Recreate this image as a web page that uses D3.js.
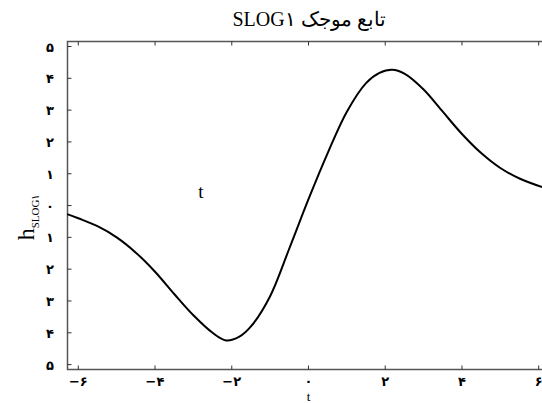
<!DOCTYPE html>
<html><head><meta charset="utf-8">
<script src="https://cdn.jsdelivr.net/npm/d3@7"></script>
<style>body{margin:0;background:#fff}svg{display:block}</style>
</head><body>
<svg id="c" width="542" height="403"></svg>
<script>
const tValues = [-6.29,-6.0,-5.5,-5.0,-4.5,-4.0,-3.5,-3.0,-2.5,-2.15,-1.8,-1.5,-1.0,-0.5,0.0,0.5,1.0,1.5,1.85,2.18,2.5,3.0,3.5,4.0,4.5,5.0,5.5,6.09];
const hValues = [-0.27,-0.4,-0.65,-1.0,-1.48,-2.08,-2.78,-3.45,-4.0,-4.24,-4.12,-3.8,-2.85,-1.35,0.2,1.65,2.95,3.85,4.17,4.27,4.15,3.65,2.95,2.25,1.65,1.18,0.85,0.58];
const xTicks = [-6,-4,-2,0,2,4,6];
const xTickLabels = ["−۶","−۴","−۲","۰","۲","۴","۶"];
const yTicks = [5,4,3,2,1,0,-1,-2,-3,-4,-5];
const yTickLabels = ["۵","۴","۳","۲","۱","۰","۱","۲","۳","۴","۵"];
const titleText = "تابع موجک SLOG۱";

const svg = d3.select("#c");
const L = 67.5, T = 41.5, B = 369.5;
const x = d3.scaleLinear().domain([-6, 6]).range([78.3, 538.7]);
const y = d3.scaleLinear().domain([-5, 5]).range([364.6, 46.5]);
const R = x(6.12);

const serif = "'Liberation Serif','DejaVu Serif',serif";
svg.append("rect").attr("x", L).attr("y", T).attr("width", R - L).attr("height", B - T)
  .attr("fill", "none").attr("stroke", "#555").attr("stroke-width", 1.5);

svg.append("g").selectAll("line").data(xTicks).join("line")
  .attr("x1", d => x(d)).attr("x2", d => x(d)).attr("y1", B).attr("y2", B - 4)
  .attr("stroke", "#333").attr("stroke-width", 1);
svg.append("g").selectAll("line").data(xTicks).join("line")
  .attr("x1", d => x(d)).attr("x2", d => x(d)).attr("y1", T).attr("y2", T + 4)
  .attr("stroke", "#333").attr("stroke-width", 1);
svg.append("g").selectAll("line").data(yTicks).join("line")
  .attr("x1", L).attr("x2", L + 4).attr("y1", d => y(d)).attr("y2", d => y(d))
  .attr("stroke", "#333").attr("stroke-width", 1);

svg.append("g").selectAll("text").data(xTicks).join("text")
  .attr("x", d => x(d)).attr("y", 386).attr("text-anchor", "middle")
  .attr("font-family", "'DejaVu Sans',sans-serif").attr("font-size", 13).attr("font-weight", "bold")
  .attr("direction", "ltr")
  .text((d, i) => xTickLabels[i]);
svg.append("g").selectAll("text").data(yTicks).join("text")
  .attr("x", 50).attr("y", d => y(d) + 5).attr("text-anchor", "middle")
  .attr("font-family", "'DejaVu Sans',sans-serif").attr("font-size", 13).attr("font-weight", "bold")
  .text((d, i) => yTickLabels[i]);

const line = d3.line().x(d => x(d[0])).y(d => y(d[1])).curve(d3.curveCatmullRom.alpha(0.5));
svg.append("path").datum(tValues.map((t, i) => [t, hValues[i]]))
  .attr("d", line).attr("fill", "none").attr("stroke", "#000").attr("stroke-width", 2);

svg.append("text").attr("x", 309).attr("y", 26).attr("text-anchor", "middle")
  .attr("font-family", serif).attr("font-size", 20).attr("direction", "rtl")
  .text(titleText);

const yl = svg.append("text").attr("transform", "translate(34,217) rotate(-90)")
  .attr("text-anchor", "middle").attr("font-family", serif);
yl.append("tspan").attr("font-size", 24).text("h");
yl.append("tspan").attr("font-size", 11).attr("dy", 5).text("SLOG۱");

svg.append("text").attr("x", x(0)).attr("y", 401).attr("text-anchor", "middle")
  .attr("font-family", serif).attr("font-size", 13).text("t");

svg.append("text").attr("x", 201).attr("y", 198).attr("text-anchor", "middle")
  .attr("font-family", serif).attr("font-size", 19).text("t");
</script>
</body></html>
